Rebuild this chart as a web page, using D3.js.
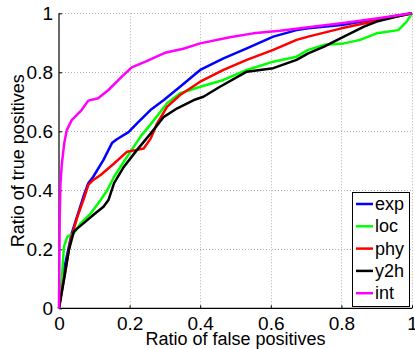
<!DOCTYPE html>
<html><head><meta charset="utf-8">
<script src="https://cdn.jsdelivr.net/npm/d3@7"></script>
<style>body{margin:0;background:#fff}svg{display:block}text{font-family:"Liberation Sans",Arial,sans-serif;fill:#000}</style>
</head><body><svg id="c" width="415" height="349"></svg>
<script>
const seriesNames = ["exp","loc","phy","y2h","int"];
const seriesColors = ["#0000ff","#00ff00","#ff0000","#000000","#ff00ff"];
const xTicks = [0,0.2,0.4,0.6,0.8,1];
const yTicks = [0,0.2,0.4,0.6,0.8,1];
const xTickLabels = ["0","0.2","0.4","0.6","0.8","1"];
const yTickLabels = ["0","0.2","0.4","0.6","0.8","1"];
const xLabel = "Ratio of false positives";
const yLabel = "Ratio of true positives";

const expFpr = [0,0.012,0.036,0.069,0.083,0.097,0.126,0.15,0.164,0.197,0.221,0.259,0.297,0.343,0.40,0.466,0.532,0.607,0.673,0.706,0.80,1];
const expTpr = [0,0.12,0.254,0.378,0.424,0.446,0.503,0.56,0.573,0.597,0.627,0.672,0.706,0.751,0.808,0.847,0.881,0.921,0.943,0.949,0.96,1];

const locFpr = [0,0.008,0.014,0.024,0.042,0.061,0.09,0.118,0.137,0.156,0.193,0.231,0.269,0.306,0.343,0.40,0.466,0.532,0.607,0.673,0.706,0.751,0.807,0.853,0.9,0.961,0.985,1];
const locTpr = [0,0.1,0.209,0.243,0.254,0.288,0.322,0.367,0.401,0.446,0.514,0.582,0.638,0.695,0.729,0.751,0.774,0.808,0.836,0.853,0.876,0.893,0.898,0.91,0.932,0.943,0.972,1];

const phyFpr = [0,0.01,0.033,0.052,0.069,0.083,0.097,0.118,0.156,0.193,0.221,0.24,0.26,0.278,0.306,0.343,0.40,0.466,0.532,0.607,0.673,0.706,0.80,1];
const phyTpr = [0,0.073,0.232,0.31,0.367,0.418,0.435,0.452,0.491,0.531,0.537,0.542,0.576,0.627,0.683,0.723,0.768,0.808,0.842,0.876,0.91,0.921,0.949,1];

const y2hFpr = [0,0.014,0.028,0.042,0.052,0.069,0.097,0.126,0.14,0.156,0.184,0.221,0.26,0.297,0.335,0.382,0.409,0.456,0.532,0.607,0.673,0.706,0.751,0.807,0.864,0.9,0.957,1];
const y2hTpr = [0,0.096,0.198,0.26,0.271,0.288,0.316,0.344,0.367,0.424,0.48,0.537,0.593,0.649,0.678,0.706,0.717,0.751,0.802,0.814,0.842,0.864,0.887,0.921,0.955,0.972,0.989,1];

const intFpr = [0,0.002,0.004,0.008,0.015,0.022,0.036,0.064,0.083,0.111,0.14,0.178,0.206,0.245,0.30,0.352,0.40,0.484,0.55,0.626,0.706,0.80,0.9,1];
const intTpr = [0,0.3,0.42,0.49,0.56,0.604,0.638,0.672,0.704,0.712,0.74,0.785,0.817,0.836,0.866,0.88,0.898,0.919,0.932,0.941,0.953,0.966,0.982,1];

const seriesFpr = [expFpr,locFpr,phyFpr,y2hFpr,intFpr];
const seriesTpr = [expTpr,locTpr,phyTpr,y2hTpr,intTpr];

const svg = d3.select("#c");
const L=59, R=412, T=13.3, B=308.3;
const x = d3.scaleLinear().domain([0,1]).range([L,R]);
const y = d3.scaleLinear().domain([0,1]).range([B,T]);

// grid
const g = svg.append("g");
g.selectAll(".gx").data(xTicks.filter(d=>d>0)).enter().append("line")
  .attr("x1",d=>Math.round(x(d))+0.5).attr("x2",d=>Math.round(x(d))+0.5).attr("y1",T).attr("y2",B)
  .attr("stroke","#b0b0b0").attr("stroke-width",1).attr("stroke-dasharray","1,2");
g.selectAll(".gy").data(yTicks.filter(d=>d>0)).enter().append("line")
  .attr("y1",d=>Math.round(y(d))+0.5).attr("y2",d=>Math.round(y(d))+0.5).attr("x1",L).attr("x2",R)
  .attr("stroke","#b0b0b0").attr("stroke-width",1).attr("stroke-dasharray","1,2");

// axes
const xAxis = d3.axisBottom(x).tickValues(xTicks).tickFormat((d,i)=>xTickLabels[i]).tickSize(-3).tickPadding(8);
const yAxis = d3.axisLeft(y).tickValues(yTicks).tickFormat((d,i)=>yTickLabels[i]).tickSize(-3).tickPadding(6);
const ax = svg.append("g").attr("transform",`translate(0,${B})`).call(xAxis);
const ay = svg.append("g").attr("transform",`translate(${L},0)`).call(yAxis);
[ax,ay].forEach(a=>{
  a.select(".domain").attr("stroke","#000").attr("stroke-width",1.2);
  a.selectAll(".tick line").attr("stroke","#000");
  a.selectAll(".tick text").attr("font-size",19).attr("font-family","Liberation Sans, Arial, sans-serif").attr("fill","#000");
});
ax.select(".domain").attr("d",`M${L},0H${R}`);
ay.select(".domain").attr("d",`M0,${B}V${T}`);

// lines
const line = d3.line().x(d=>x(d[0])).y(d=>y(d[1]));
seriesNames.forEach((n,i)=>{
  const pts = seriesFpr[i].map((f,j)=>[f,seriesTpr[i][j]]);
  svg.append("path").attr("d",line(pts)).attr("fill","none")
    .attr("stroke",seriesColors[i]).attr("stroke-width",2.5).attr("stroke-linejoin","round");
});

// labels
svg.append("text").attr("x",(L+R)/2).attr("y",345).attr("text-anchor","middle").attr("font-size",18).text(xLabel);
svg.append("text").attr("transform",`translate(24,${(T+B)/2}) rotate(-90)`).attr("text-anchor","middle").attr("font-size",18).text(yLabel);

// legend
const lg = svg.append("g");
lg.append("rect").attr("x",352.5).attr("y",192.5).attr("width",57).attr("height",114).attr("fill","#fff").attr("stroke","#000").attr("stroke-width",1);
seriesNames.forEach((n,i)=>{
  const yy = 204 + i*22.3;
  lg.append("line").attr("x1",356).attr("x2",373).attr("y1",yy).attr("y2",yy).attr("stroke",seriesColors[i]).attr("stroke-width",2.5);
  lg.append("text").attr("x",375).attr("y",yy+6).attr("font-size",18).text(n);
});
</script></body></html>
